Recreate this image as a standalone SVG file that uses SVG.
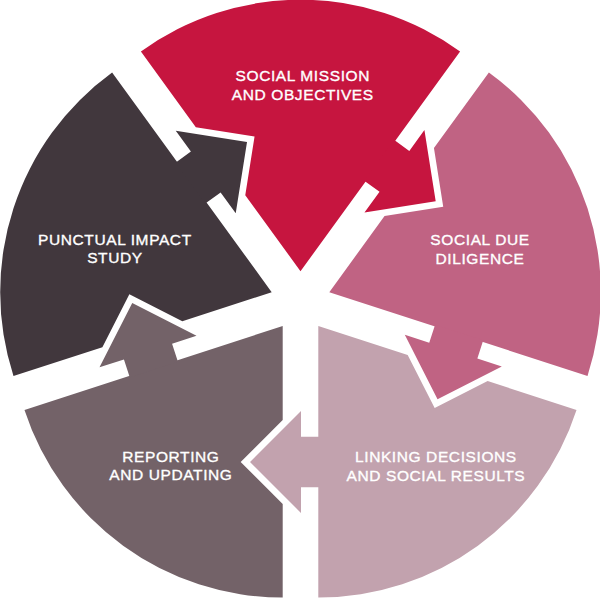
<svg xmlns="http://www.w3.org/2000/svg" xmlns:xlink="http://www.w3.org/1999/xlink" width="600" height="598" viewBox="0 0 600 598">
  <style>
    .lbl { font-family: "Liberation Sans", Arial, sans-serif; font-size: 15.5px; letter-spacing: 0.6px; fill: #ffffff; stroke: #ffffff; stroke-width: 0.35px; text-anchor: middle; }
    .c-mission { fill: #C6153F; }
    .c-dd { fill: #C06383; }
    .c-link { fill: #C2A2AE; }
    .c-rep { fill: #736268; }
    .c-punc { fill: #41373D; }
  </style>
  <defs>
    <path id="wedge" d="M 17.8 24.5 L 17.8 296 A 271.5 271.5 0 0 0 276.02 108.40 L 187.13 79.51 L 134.16 106.49 L 107.18 53.54 Z"/>
    <path id="arrow" d="M 19.5 135.2 L 0.5 135.2 L 0.5 109.5 L -50.5 160.5 L 0.5 211.5 L 0.5 185.8 L 19.5 185.8 Z"/>
  </defs>
  <rect width="600" height="598" fill="#ffffff"/>

  <g id="node-mission">
    <use xlink:href="#wedge" class="c-mission" transform="translate(300.5,301.5) rotate(-144)"/>
    <text class="lbl" x="302.8" y="81">SOCIAL MISSION</text>
    <text class="lbl" x="302.8" y="100">AND OBJECTIVES</text>
  </g>
  <g id="node-due-diligence">
    <use xlink:href="#wedge" class="c-dd" transform="translate(300.5,301.5) rotate(-72)"/>
    <text class="lbl" x="480" y="245.3">SOCIAL DUE</text>
    <text class="lbl" x="480" y="264">DILIGENCE</text>
  </g>
  <g id="node-linking">
    <use xlink:href="#wedge" class="c-link" transform="translate(300.5,301.5)"/>
    <text class="lbl" x="435.9" y="461.7">LINKING DECISIONS</text>
    <text class="lbl" x="435.9" y="480.5">AND SOCIAL RESULTS</text>
  </g>
  <g id="node-reporting">
    <use xlink:href="#wedge" class="c-rep" transform="translate(300.5,301.5) rotate(72)"/>
    <text class="lbl" x="170.9" y="461.7">REPORTING</text>
    <text class="lbl" x="170.9" y="480.3">AND UPDATING</text>
  </g>
  <g id="node-punctual">
    <use xlink:href="#wedge" class="c-punc" transform="translate(300.5,301.5) rotate(144)"/>
    <text class="lbl" x="114.9" y="245">PUNCTUAL IMPACT</text>
    <text class="lbl" x="114.9" y="263.3">STUDY</text>
  </g>

  <g id="connectors">
    <use xlink:href="#arrow" class="c-mission" transform="translate(300.5,301.5) rotate(-144)"/>
    <use xlink:href="#arrow" class="c-dd" transform="translate(300.5,301.5) rotate(-72)"/>
    <use xlink:href="#arrow" class="c-link" transform="translate(300.5,301.5)"/>
    <use xlink:href="#arrow" class="c-rep" transform="translate(300.5,301.5) rotate(72)"/>
    <use xlink:href="#arrow" class="c-punc" transform="translate(300.5,301.5) rotate(144)"/>
  </g>
</svg>
